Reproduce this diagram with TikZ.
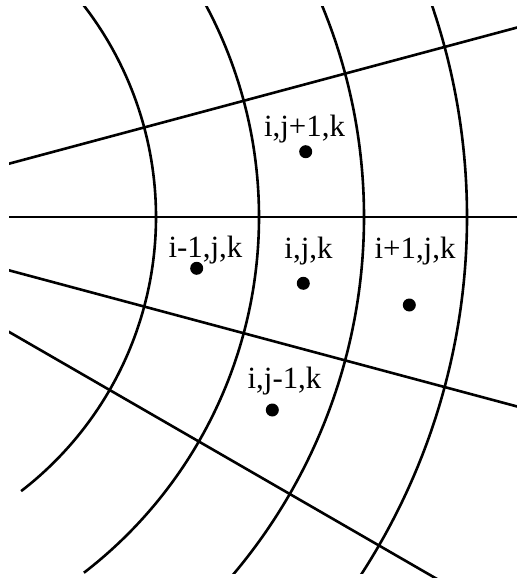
\documentclass[tikz,border=0pt]{standalone}
\usepackage{fontspec}
\setmainfont{Liberation Serif}
\begin{document}
\begin{tikzpicture}[x=1bp,y=-1bp,
  grid/.style={line width=2.6bp,black},
  lab/.style={inner sep=0pt,anchor=base,font=\fontsize{31}{31}\selectfont},
  celldot/.style={circle,fill=black,inner sep=0pt,minimum size=13bp}]
\useasboundingbox (0,0) rectangle (517,581);
\coordinate (O) at (-190,217);
% radial lines
\begin{scope}
  \clip (9,0) rectangle (517,577);
  \foreach \a in {-15,0,15,30}
    \draw[grid] (O) -- ++(\a:900);
\end{scope}
% arcs
\begin{scope}
  \clip (0,7) rectangle (517,573);
  \foreach \r in {346,449,554,657}
    \draw[grid] ([shift={(-190,217)}]-60:\r) arc[start angle=-60,end angle=52.4,radius=\r];
\end{scope}
% labels
\node[lab] (t1) at (304.5,137) {i,j+1,k};
\node[lab] (t2) at (205.5,257) {i-1,j,k};
\node[lab] (t3) at (308.5,258) {i,j,k};
\node[lab] (t4) at (415,258) {i+1,j,k};
\node[lab] (t5) at (284.5,388) {i,j-1,k};
% dots
\node[celldot] (d1) at (305.7,151.7) {};
\node[celldot] (d2) at (196.7,268.3) {};
\node[celldot] (d3) at (303.3,283.3) {};
\node[celldot] (d4) at (409.3,305) {};
\node[celldot] (d5) at (272.3,410) {};
\end{tikzpicture}
\end{document}
